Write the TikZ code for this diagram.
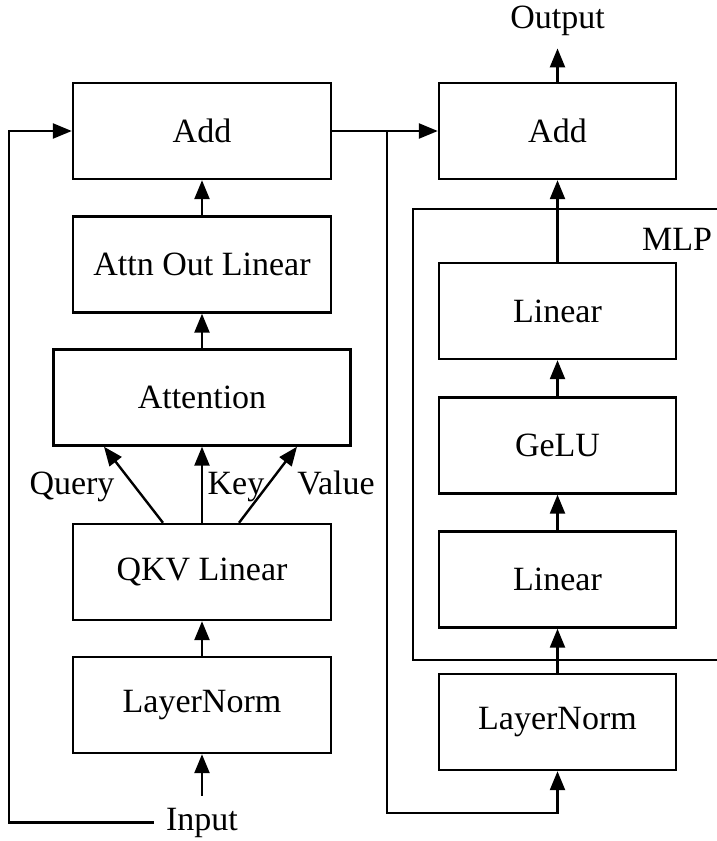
\documentclass[tikz,border=0pt]{standalone}
\usepackage{fontspec}
\setmainfont{Liberation Serif}
\usepackage{tikz}
\usetikzlibrary{arrows.meta, calc}

\begin{document}
\begin{tikzpicture}[
            x=1pt, y=-1pt,
            >={Triangle[length=19pt, width=15pt]},
            line width=2.4pt,
            arr/.style={->},
            blk/.style={draw, minimum width=258pt, minimum height=96pt, inner sep=0pt, font=\fontsize{34}{40}\selectfont},
            blkR/.style={blk, minimum width=237pt},
            lbl/.style={inner sep=3pt, font=\fontsize{34}{40}\selectfont}
        ]
        \useasboundingbox (0,0) rectangle (717,841);

        % 1. X-coordinates of the two columns
        \def\xA{202}
        \def\xB{557.5}

        % 2. Left column: attention half
        \node[blk] (addA) at (\xA, 131) {Add};
        \node[blk] (outA) at (\xA, 264.5) {Attn Out Linear};
        \node[blk, minimum width=297pt] (att) at (\xA, 397.5) {Attention};
        \node[blk] (qkv) at (\xA, 572) {QKV Linear};
        \node[blk] (lnA) at (\xA, 705) {LayerNorm};
        \node[lbl, inner sep=11pt, anchor=base] (inp) at (\xA, 830) {Input};

        % 3. Right column: MLP half
        \node[blkR] (addB) at (\xB, 131) {Add};
        \node[blkR] (linB) at (\xB, 311) {Linear};
        \node[blkR] (gelu) at (\xB, 445.5) {GeLU};
        \node[blkR] (linA) at (\xB, 579.5) {Linear};
        \node[blkR] (lnB) at (\xB, 722) {LayerNorm};
        \node[lbl, inner sep=12pt, anchor=base] (out) at (\xB, 28) {Output};

        % MLP frame (right side runs off the page)
        \draw (720, 209) -| (413, 660) -- (720, 660);
        \node[lbl, anchor=base] (mlp) at (677, 250) {MLP};

        % 4. Attention data flow
        \draw[arr] (inp) -- (lnA);
        \draw[arr] (lnA) -- (qkv);
        \draw[arr] ([xshift=-39pt]qkv.north) -- ([xshift=-98pt]att.south);
        \draw[arr] (qkv) -- (att);
        \draw[arr] ([xshift=37pt]qkv.north) -- ([xshift=95pt]att.south);
        \node[lbl, anchor=base] (query) at (72, 494) {Query};
        \node[lbl, anchor=base] (key) at (236, 494) {Key};
        \node[lbl, anchor=base] (value) at (336, 494) {Value};
        \draw[arr] (att) -- (outA);
        \draw[arr] (outA) -- (addA);

        % residual around attention
        \draw[arr] (inp.west) -| ([xshift=-63pt]addA.west) -- (addA.west);

        % 5. MLP data flow
        \coordinate (split) at (387, 131);
        \draw[arr] (addA) -- (addB);
        \draw[arr] (split) |- ([yshift=-42pt]lnB.south) -- (lnB.south);
        \draw[arr] (lnB) -- (linA);
        \draw[arr] (linA) -- (gelu);
        \draw[arr] (gelu) -- (linB);
        \draw[arr] (linB) -- (addB);
        \draw[arr] (addB) -- (out);

        \end{tikzpicture}
\end{document}
